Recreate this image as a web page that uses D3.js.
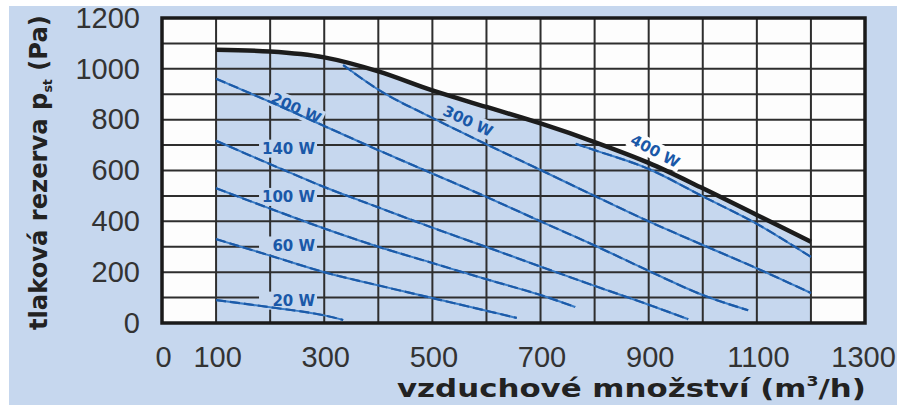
<!DOCTYPE html>
<html><head><meta charset="utf-8">
<script src="https://cdn.jsdelivr.net/npm/d3@7"></script>
<style>
html,body{margin:0;padding:0;background:#fff;}
svg{display:block;}
</style></head>
<body>
<svg id="chart" width="897" height="405"></svg>
<script>
// ---- data ----
const xTicks = [0, 100, 300, 500, 700, 900, 1100, 1300];
const yTicks = [0, 200, 400, 600, 800, 1000, 1200];
const xGrid = [0,100,200,300,400,500,600,700,800,900,1000,1100,1200,1300];
const yGrid = [0,100,200,300,400,500,600,700,800,900,1000,1100,1200];

// maximum pressure curve (black)
const maxFlow = [100, 200, 300, 400, 500, 600, 700, 800, 900, 1000, 1100, 1200];
const maxPressure = [1075, 1068, 1045, 990, 915, 850, 785, 712, 630, 530, 425, 320];

// power lines (blue)
const powerLabels = ["20 W", "60 W", "100 W", "140 W", "200 W", "300 W", "400 W"];
const flow20 = [100, 200, 300, 335];
const p20 = [90, 62, 30, 12];
const flow60 = [100, 200, 300, 400, 500, 600, 656];
const p60 = [330, 265, 200, 148, 98, 48, 20];
const flow100 = [100, 200, 300, 400, 500, 600, 700, 764];
const p100 = [530, 450, 372, 300, 236, 172, 110, 63];
const flow140 = [100, 200, 300, 400, 500, 600, 700, 800, 900, 973];
const p140 = [717, 625, 535, 455, 375, 299, 222, 146, 72, 15];
const flow200 = [100, 200, 300, 400, 500, 600, 700, 800, 900, 1000, 1084];
const p200 = [961, 870, 775, 680, 588, 496, 400, 305, 205, 110, 50];
const flow300 = [335, 400, 500, 600, 700, 800, 900, 1000, 1100, 1200];
const p300 = [1015, 918, 807, 703, 602, 500, 400, 307, 215, 118];
const flow400 = [765, 800, 900, 1000, 1100, 1200];
const p400 = [705, 680, 606, 498, 390, 260];

// label anchor positions (data units) and rotation
const labelFlow = [283, 283, 283, 283, 248, 566, 912];
const labelPressure = [88, 305, 496, 686, 846, 795, 677];
const labelAngle = [0, 0, 0, 0, 25, 25, 28];

const xTitle = "vzduchové množství";
const yTitle = "tlaková rezerva";

// ---- drawing ----
const svg = d3.select("#chart");
const BG = "#c6d7ee";
const LINE_BLUE = "#3a7cc6";
const DARK_BLUE = "#1a58a8";

svg.append("rect").attr("x", 9).attr("y", 6).attr("width", 888).attr("height", 399).attr("fill", BG);

const x = d3.scaleLinear().domain([0, 1300]).range([162, 865]);
const y = d3.scaleLinear().domain([0, 1200]).range([323, 18]);

// plot background
svg.append("rect").attr("x", x(0)).attr("y", y(1200))
  .attr("width", x(1300) - x(0)).attr("height", y(0) - y(1200)).attr("fill", "#fdfdfd");

// shaded working area
const maxPts = maxFlow.map((f, i) => [f, maxPressure[i]]);
const area = d3.area().x(d => x(d[0])).y0(y(0)).y1(d => y(d[1])).curve(d3.curveMonotoneX);
svg.append("path").datum(maxPts).attr("d", area).attr("fill", BG);

// grid
const grid = svg.append("g").attr("stroke", "#2e2e2e").attr("stroke-width", 2);
grid.selectAll("line.v").data(xGrid.slice(1, -1)).join("line")
  .attr("x1", d => x(d)).attr("x2", d => x(d)).attr("y1", y(1200)).attr("y2", y(0));
grid.selectAll("line.h").data(yGrid.slice(1, -1)).join("line")
  .attr("y1", d => y(d)).attr("y2", d => y(d)).attr("x1", x(0)).attr("x2", x(1300));

// label knockouts
const labG = svg.append("g");
const labelNodes = powerLabels.map((t, i) => {
  const g = labG.append("g")
    .attr("transform", `translate(${x(labelFlow[i])},${y(labelPressure[i])}) rotate(${labelAngle[i]})`);
  const anchor = labelAngle[i] === 0 ? "end" : "middle";
  const rx = anchor === "end" ? -56 : -29;
  g.append("rect").attr("x", rx).attr("y", -9).attr("width", 58).attr("height", 18)
    .attr("fill", i === 6 ? "#fdfdfd" : BG);
  return {g, anchor};
});

// power lines
const line = d3.line().x(d => x(d[0])).y(d => y(d[1])).curve(d3.curveMonotoneX);
const series = [[flow20, p20], [flow60, p60], [flow100, p100], [flow140, p140],
                [flow200, p200], [flow300, p300], [flow400, p400]];
const lg = svg.append("g").attr("fill", "none");
series.forEach(([f, p]) => {
  const pts = f.map((v, i) => [v, p[i]]);
  lg.append("path").datum(pts).attr("d", line).attr("stroke", LINE_BLUE).attr("stroke-width", 2);
  lg.append("path").datum(pts).attr("d", line).attr("stroke", "#1b5aa8").attr("stroke-width", 2.2)
    .attr("stroke-dasharray", "10,4");
});

// label texts
labelNodes.forEach(({g, anchor}, i) => {
  g.append("text").text(powerLabels[i])
    .attr("text-anchor", anchor).attr("dy", "0.36em")
    .attr("font-family", "DejaVu Sans").attr("font-weight", "bold").attr("font-size", 15)
    .attr("fill", DARK_BLUE);
});

// max curve
svg.append("path").datum(maxPts).attr("d", line).attr("fill", "none")
  .attr("stroke", "#1c1c1c").attr("stroke-width", 4.5).attr("stroke-linecap", "butt");

// frame
svg.append("rect").attr("x", x(0)).attr("y", y(1200))
  .attr("width", x(1300) - x(0)).attr("height", y(0) - y(1200))
  .attr("fill", "none").attr("stroke", "#1a1a1a").attr("stroke-width", 3.5);

// axes (labels only)
const yAxis = svg.append("g").attr("transform", `translate(${x(0)},0)`)
  .call(d3.axisLeft(y).tickValues(yTicks).tickSize(0).tickPadding(22).tickFormat(d3.format("d")));
const xAxis = svg.append("g").attr("transform", `translate(0,${y(0)})`)
  .call(d3.axisBottom(x).tickValues(xTicks).tickSize(0).tickPadding(23).tickFormat(d3.format("d")));
[yAxis, xAxis].forEach(a => {
  a.select(".domain").remove();
  a.selectAll("text").attr("font-family", "Liberation Sans").attr("font-size", 29).attr("fill", "#333");
});
xAxis.selectAll("text").attr("dx", d => d === 1300 ? -2 : 1);

// x title
const xt = svg.append("text").attr("font-family", "DejaVu Sans").attr("font-weight", "bold")
  .attr("font-size", 25).attr("fill", "#222");
xt.append("tspan").text(xTitle + " (m");
xt.append("tspan").text("3").attr("font-size", 14).attr("dy", -11);
xt.append("tspan").text("/h)").attr("dy", 11);
{
  const b = xt.node().getBBox();
  const sx = (866 - 397) / b.width;
  xt.attr("transform", `translate(${397 - b.x * sx},397) scale(${sx},1)`);
}

// y title
const yt = svg.append("text").attr("font-family", "DejaVu Sans").attr("font-weight", "bold")
  .attr("font-size", 25).attr("fill", "#222");
yt.append("tspan").text(yTitle + " p");
yt.append("tspan").text("st").attr("font-size", 13).attr("dy", 5);
yt.append("tspan").text(" (Pa)").attr("dy", -5);
{
  const b = yt.node().getBBox();
  const s = (330 - 15) / b.width;
  yt.attr("transform", `translate(47,${330 + b.x * s}) rotate(-90) scale(${s},1)`);
}
</script>
</body></html>
